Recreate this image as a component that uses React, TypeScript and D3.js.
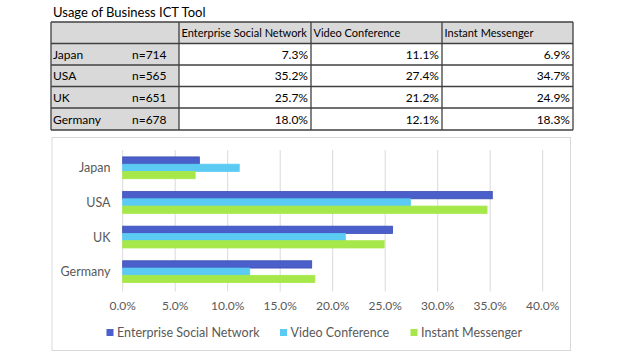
import React from "react";
import * as d3 from "d3";

const countries = ["Japan", "USA", "UK", "Germany"];
const sampleSizes = ["n=714", "n=565", "n=651", "n=678"];
const seriesNames = ["Enterprise Social Network", "Video Conference", "Instant Messenger"];
const enterpriseSocial = [7.3, 35.2, 25.7, 18.0];
const videoConference = [11.1, 27.4, 21.2, 12.1];
const instantMessenger = [6.9, 34.7, 24.9, 18.3];
const xTicks = [0, 5, 10, 15, 20, 25, 30, 35, 40];
const title = "Usage of Business ICT Tool";

const seriesValues = [enterpriseSocial, videoConference, instantMessenger];
const colors = ["#4A5FC9", "#5BCBF3", "#A6E84A"];
const strokes = ["#3A4DB5", "#5BCBF3", "#A6E84A"];

const FONT = "Lato, 'Open Sans', sans-serif";

export default function App() {
  const W = 624, H = 357;
  const colX = [51, 179, 311, 442, 573];
  const rowY = [22, 43.5, 65, 86.5, 108, 130];

  const x = d3.scaleLinear().domain([0, 40]).range([122.7, 542.7]);
  const y = d3.scaleBand<string>().domain(countries).range([150.5, 289]).paddingInner(0.37).paddingOuter(0.185);
  const inner = d3.scaleBand<number>().domain([0, 1, 2]).range([0, y.bandwidth()]);
  const fmt = (v: number) => v.toFixed(1) + "%";

  const legendItems = [
    { sx: 106.5, tx: 117 },
    { sx: 280, tx: 290.5 },
    { sx: 410.5, tx: 421 },
  ];

  return (
    <svg width={W} height={H} style={{ position: "absolute", left: 0, top: 0 }} fontFamily={FONT}>
      <rect x={0} y={0} width={W} height={H} fill="#fff" />
      <text x={53} y={17} fontSize={13} fill="#000">{title}</text>
      <rect x={colX[0]} y={rowY[0]} width={colX[4] - colX[0]} height={rowY[1] - rowY[0]} fill="#D9D9D9" />
      {countries.map((c, i) => (
        <rect key={c} x={colX[0]} y={rowY[i + 1]} width={colX[1] - colX[0]} height={rowY[i + 2] - rowY[i + 1]} fill="#D9D9D9" />
      ))}
      {rowY.map((yy, i) => (
        <line key={"h" + i} x1={colX[0]} x2={colX[4]} y1={yy} y2={yy} stroke="#404040" strokeWidth={1.3} />
      ))}
      {colX.map((xx, i) => (
        <line key={"v" + i} x1={xx} x2={xx} y1={rowY[0]} y2={rowY[5]} stroke="#404040" strokeWidth={1.3} />
      ))}
      {seriesNames.map((s, j) => (
        <text key={s} x={colX[j + 1] + 2.5} y={(rowY[0] + rowY[1]) / 2 + 4} fontSize={11} fill="#000">{s}</text>
      ))}
      {countries.map((c, i) => {
        const cy = (rowY[i + 1] + rowY[i + 2]) / 2 + 4.5;
        return (
          <g key={c}>
            <text x={53} y={cy} fontSize={12} fill="#000">{c}</text>
            <text x={132} y={cy} fontSize={12} fill="#000">{sampleSizes[i]}</text>
            {seriesValues.map((vals, j) => (
              <text key={j} x={colX[j + 2] - 3} y={cy} fontSize={12} textAnchor="end" fill="#000">{fmt(vals[i])}</text>
            ))}
          </g>
        );
      })}
      <rect x={52} y={137.5} width={518.5} height={213} fill="#fff" stroke="#D9D9D9" strokeWidth={1} />
      {xTicks.map((t) => (
        <g key={t}>
          <line x1={x(t)} x2={x(t)} y1={150} y2={291.5} stroke="#D9D9D9" strokeWidth={1} />
          <text x={x(t)} y={310} fontSize={12} textAnchor="middle" fill="#595959">{fmt(t)}</text>
        </g>
      ))}
      {countries.map((c, i) => (
        <g key={c}>
          <text x={110.5} y={(y(c) as number) + y.bandwidth() / 2 + 4.5} fontSize={12.5} textAnchor="end" fill="#595959">{c}</text>
          {seriesValues.map((vals, j) => (
            <rect key={j} x={x(0)} y={(y(c) as number) + (inner(j) as number)} width={x(vals[i]) - x(0)} height={inner.bandwidth()}
              fill={colors[j]} stroke={strokes[j]} strokeWidth={0.8} />
          ))}
        </g>
      ))}
      {seriesNames.map((s, j) => (
        <g key={s}>
          <rect x={legendItems[j].sx} y={329} width={7} height={7} fill={colors[j]} />
          <text x={legendItems[j].tx} y={337} fontSize={12.5} fill="#595959">{s}</text>
        </g>
      ))}
    </svg>
  );
}
